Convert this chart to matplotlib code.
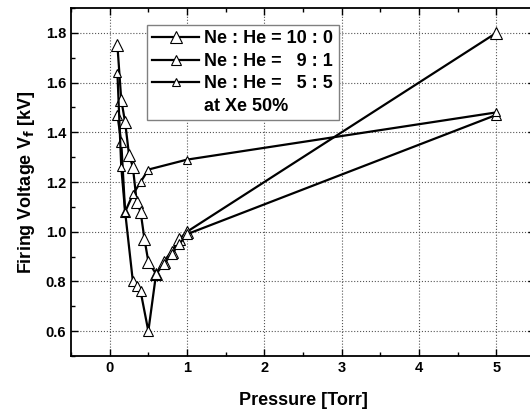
import numpy as np
import matplotlib
matplotlib.use("Agg")
import matplotlib.pyplot as plt
from matplotlib.lines import Line2D

plt.rcParams['font.family'] = ['Liberation Sans', 'DejaVu Sans']
plt.rcParams['font.weight'] = 'bold'
plt.rcParams['mathtext.default'] = 'bf'

# Ne:He = 10:0
p_a = [0.1, 0.15, 0.2, 0.25, 0.3, 0.35, 0.4, 0.45, 0.5, 0.6, 0.7, 0.8, 0.9, 1.0, 5.0]
v_a = [1.75, 1.53, 1.44, 1.31, 1.26, 1.12, 1.08, 0.97, 0.88, 0.83, 0.88, 0.92, 0.97, 1.00, 1.80]
# Ne:He = 9:1
p_b = [0.1, 0.15, 0.2, 0.3, 0.35, 0.4, 0.5, 0.6, 0.7, 0.8, 0.9, 1.0, 5.0]
v_b = [1.47, 1.36, 1.08, 0.80, 0.78, 0.76, 0.60, 0.83, 0.87, 0.91, 0.95, 0.99, 1.47]
# Ne:He = 5:5
p_c = [0.1, 0.15, 0.2, 0.3, 0.4, 0.5, 1.0, 5.0]
v_c = [1.64, 1.26, 1.08, 1.15, 1.20, 1.25, 1.29, 1.48]

labels = ["Ne : He = 10 : 0", "Ne : He =   9 : 1", "Ne : He =   5 : 5"]

fig = plt.figure(figsize=(5.3, 4.12), dpi=100)
ax = fig.add_axes([71/530, 56/412, 464/530, 348/412])

l1, = ax.plot(p_a, v_a, color='black', lw=1.6, marker='^', ms=8.5,
              mfc='white', mec='black', mew=0.8)
l2, = ax.plot(p_b, v_b, color='black', lw=1.6, marker='^', ms=7,
              mfc='white', mec='black', mew=0.8)
l3, = ax.plot(p_c, v_c, color='black', lw=1.6, marker='^', ms=5.5,
              mfc='white', mec='black', mew=0.8)
blank = Line2D([], [], color='none')

ax.set_xlim(-0.5, 5.5)
ax.set_ylim(0.5, 1.9)
ax.set_xticks([0, 1, 2, 3, 4, 5])
ax.set_xticks(np.arange(-0.5, 5.6, 0.5), minor=True)
ax.set_yticks([0.6, 0.8, 1.0, 1.2, 1.4, 1.6, 1.8])
ax.set_yticks(np.arange(0.5, 1.91, 0.1), minor=True)
ax.tick_params(which='both', direction='in', top=True, right=True, labelsize=10.5)
ax.tick_params(which='major', length=5, width=1)
ax.tick_params(which='minor', length=3, width=1)
ax.grid(True, which='major', linestyle=':', color='#555555', lw=0.8)
for s in ax.spines.values():
    s.set_linewidth(1.3)

ax.set_xlabel("Pressure [Torr]", fontsize=13, fontweight='bold', labelpad=12)
ax.set_ylabel("Firing Voltage V$_\\mathbf{f}$ [kV]", fontsize=13, fontweight='bold', labelpad=6)

leg = ax.legend([l1, l2, l3, blank], labels + ["at Xe 50%"],
                loc='upper left', bbox_to_anchor=(0.163, 0.951), borderaxespad=0,
                handlelength=2.6, handletextpad=0.3,
                labelspacing=0.3, borderpad=0.3, fancybox=False,
                prop={'weight': 'bold', 'size': 13})
leg.get_frame().set_edgecolor('gray')
leg.get_frame().set_linewidth(1.0)
leg.get_frame().set_alpha(1)

fig.savefig("out.png", dpi=100)
